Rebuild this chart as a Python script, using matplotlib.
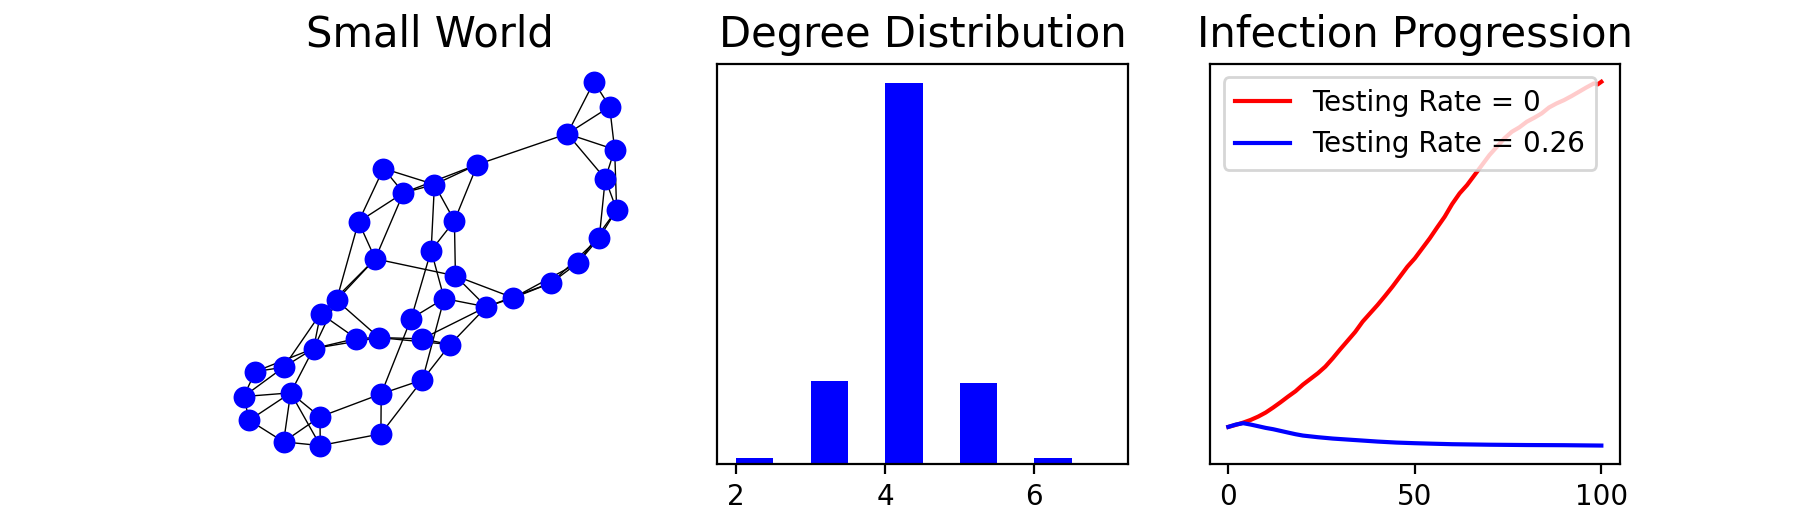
import matplotlib
matplotlib.use("Agg")
import matplotlib.pyplot as plt
from matplotlib.collections import LineCollection
import numpy as np

# ---------------- data ----------------
# Small-world network layout (node positions) and edges (1-based node ids)
node_x = [1.650, 1.807, 1.383, 1.857, 1.763, 1.877, 1.703, 1.490, 1.223, 0.843,
          0.573, 0.263, 0.483, 0.053, 0.253, 0.020, -0.457, -0.257, -0.707, -0.540,
          -0.927, -1.087, -1.157, -0.730, -0.503, -0.180, 0.150, -0.070, 0.210, -0.067,
          -0.480, -0.483, -1.093, -1.090, -1.457, -1.387, -1.457, -1.740, -1.857, -1.800]
node_y = [1.817, 1.567, 1.297, 1.140, 0.847, 0.537, 0.257, 0.007, -0.193, -0.343,
          -0.433, -0.123, 0.990, 0.790, 0.427, 0.130, 0.950, 0.707, 0.417, 0.047,
          -0.367, -0.500, -0.850, -0.750, -0.740, -0.550, -0.350, -0.753, -0.810, -1.163,
          -1.303, -1.703, -1.533, -1.820, -1.783, -1.293, -1.037, -1.080, -1.330, -1.567]
edges = [(1, 2), (1, 3), (2, 3), (2, 4), (3, 4), (3, 5), (3, 13), (4, 5), (4, 6),
         (5, 6), (5, 7), (6, 7), (6, 8), (7, 8), (7, 9), (8, 9), (8, 10), (9, 10),
         (9, 11), (10, 11), (10, 12), (11, 12), (11, 27), (11, 29), (11, 28),
         (13, 14), (13, 18), (13, 15), (14, 15), (14, 16), (14, 17), (14, 18),
         (15, 16), (15, 12), (16, 27), (16, 26), (17, 18), (17, 19), (18, 19),
         (18, 20), (19, 20), (19, 21), (20, 21), (20, 22), (20, 12), (21, 22),
         (21, 25), (21, 23), (22, 23), (22, 24), (22, 37), (23, 24), (23, 25),
         (23, 37), (23, 38), (23, 36), (24, 25), (25, 28), (25, 29), (26, 27),
         (26, 31), (27, 30), (28, 29), (29, 30), (30, 31), (30, 32), (31, 32),
         (31, 33), (32, 34), (33, 34), (33, 35), (33, 36), (34, 35), (34, 36),
         (35, 36), (35, 40), (36, 39), (36, 40), (37, 38), (37, 39), (38, 39),
         (39, 40)]

# Degree distribution
degrees = [2, 3, 4, 5, 6]
degree_counts = [1.0, 14.6, 67.2, 14.2, 1.0]

# Infection progression
t_red = [0, 2, 4, 6, 8, 10, 12, 14, 16, 18, 20, 22, 24, 26, 28, 30, 32, 34, 36, 38,
         40, 42, 44, 46, 48, 50, 52, 54, 56, 58, 60, 62, 64, 66, 68, 70, 72, 74, 76,
         78, 80, 82, 84, 86, 88, 90, 92, 94, 96, 98, 99, 100]
infected_red = [9.25, 9.75, 10.33, 11.0, 11.83, 12.83, 14.08, 15.42, 16.83, 18.17,
                19.83, 21.25, 22.67, 24.33, 26.42, 28.67, 30.83, 33.0, 35.58, 37.67,
                39.75, 42.0, 44.33, 46.83, 49.33, 51.42, 53.92, 56.42, 59.17, 61.83,
                65.0, 67.67, 69.75, 72.25, 74.75, 77.25, 79.33, 81.42, 83.08, 84.17,
                85.58, 86.58, 87.67, 89.17, 90.17, 91.0, 92.0, 93.08, 94.17, 95.17,
                94.92, 95.58]
t_blue = [0, 2, 4, 6, 8, 10, 12, 14, 16, 18, 20, 24, 28, 32, 36, 40, 45, 50, 55, 60,
          70, 80, 90, 100]
infected_blue = [9.25, 9.83, 10.17, 9.83, 9.42, 9.0, 8.67, 8.25, 7.83, 7.42, 7.08,
                 6.67, 6.33, 6.08, 5.83, 5.58, 5.33, 5.17, 5.04, 4.92, 4.79, 4.71,
                 4.67, 4.58]
labels = ["Testing Rate = 0", "Testing Rate = 0.26"]

# ---------------- figure ----------------
fig, axes = plt.subplots(1, 3, figsize=(9, 2.65), dpi=200)
fig.subplots_adjust(left=0.125, right=0.9, bottom=0.125, top=0.88, wspace=0.2)
TITLE_SIZE = 15

# Small world network
ax = axes[0]
segs = [[(node_x[a - 1], node_y[a - 1]), (node_x[b - 1], node_y[b - 1])] for a, b in edges]
lc = LineCollection(segs, colors="black", linewidths=0.5, zorder=1)
ax.add_collection(lc)
ax.scatter(node_x, node_y, s=62, c="blue", zorder=2, linewidths=0)
ax.autoscale_view()
ax.set_axis_off()
ax.set_title("Small World", fontsize=TITLE_SIZE)

# Degree distribution
ax = axes[1]
ax.bar(degrees, degree_counts, width=0.5, align="edge", color="blue")
ax.set_xlim(1.75, 7.25)
ax.set_xticks([2, 4, 6])
ax.set_yticks([])
ax.set_title("Degree Distribution", fontsize=TITLE_SIZE)

# Infection progression
ax = axes[2]
ax.plot(t_red, infected_red, color="red", label=labels[0])
ax.plot(t_blue, infected_blue, color="blue", label=labels[1])
ax.set_yticks([])
ax.set_xticks([0, 50, 100])
ax.legend(loc="upper left")
ax.set_title("Infection Progression", fontsize=TITLE_SIZE)

fig.savefig("out.png", dpi=200)
